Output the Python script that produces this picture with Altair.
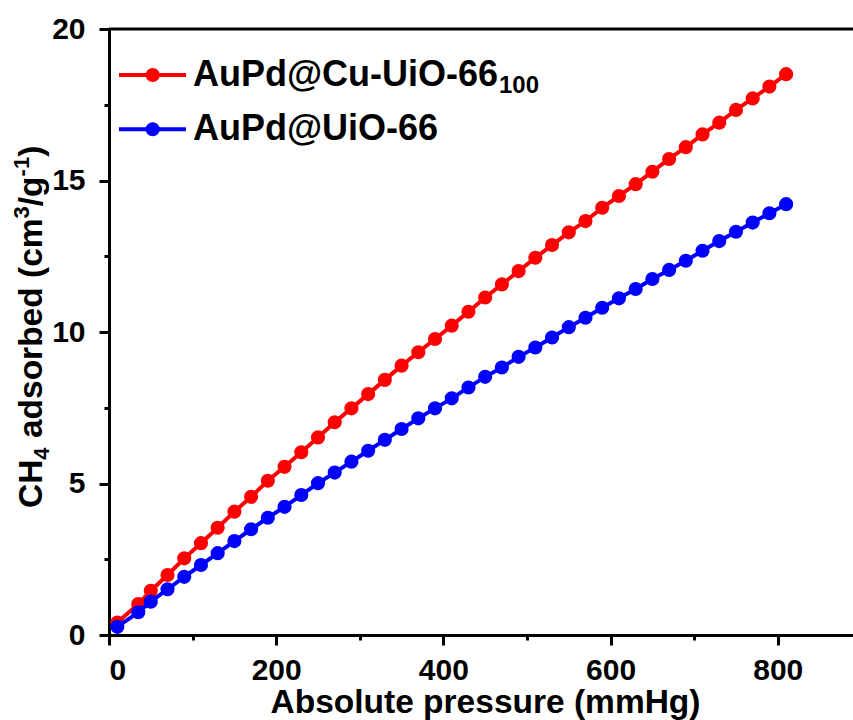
import altair as alt
import pandas as pd

# CH4 adsorption isotherms at room temperature
pressure = [10, 35] + list(range(50, 811, 20))

cu_uio66_100 = [
    0.41, 1.02, 1.46, 1.98, 2.53, 3.03, 3.54, 4.07, 4.56, 5.09,
    5.55, 6.03, 6.52, 7.02, 7.48, 7.95, 8.42, 8.89, 9.33, 9.77,
    10.21, 10.67, 11.14, 11.57, 12.01, 12.45, 12.87, 13.29, 13.66, 14.10,
    14.49, 14.88, 15.29, 15.71, 16.10, 16.52, 16.91, 17.33, 17.71, 18.10,
    18.51,
]
uio66 = [
    0.27, 0.75, 1.10, 1.51, 1.92, 2.31, 2.70, 3.10, 3.49, 3.87,
    4.23, 4.62, 5.01, 5.36, 5.72, 6.08, 6.44, 6.80, 7.15, 7.48,
    7.81, 8.17, 8.52, 8.83, 9.18, 9.49, 9.82, 10.16, 10.47, 10.80,
    11.11, 11.42, 11.75, 12.05, 12.35, 12.68, 13.00, 13.31, 13.61, 13.92,
    14.22,
]

series_names = ["AuPd@Cu-UiO-66", "AuPd@UiO-66"]
series_subs = ["100", ""]
series_colors = ["#ff0000", "#0000ff"]
series_values = [cu_uio66_100, uio66]

x_ticks = list(range(0, 801, 100))
y_ticks = [i * 2.5 for i in range(9)]

FONT = "Liberation Sans"
W, H = 744, 606

x_axis = alt.Axis(
    values=x_ticks,
    labelExpr="datum.value % 200 == 0 ? datum.label : ''",
    tickSize={"condition": {"test": "datum.value % 200 == 0", "value": 10}, "value": 5},
    tickWidth=3, tickColor="black",
    domainWidth=3, domainColor="black",
    labelFont=FONT, labelFontSize=30, labelFontWeight="bold", labelColor="black",
    labelPadding=10, labelOverlap=False, grid=False,
    title="Absolute pressure (mmHg)",
    titleFont=FONT, titleFontSize=33.5, titleFontWeight="bold", titleColor="black",
    titleBaseline="alphabetic", titleAlign="center", titleX=376, titleY=77,
)
y_axis = alt.Axis(
    values=y_ticks,
    labelExpr="datum.value % 5 == 0 ? datum.label : ''",
    tickSize={"condition": {"test": "datum.value % 5 == 0", "value": 10}, "value": 5},
    tickWidth=3, tickColor="black",
    domainWidth=3, domainColor="black",
    labelFont=FONT, labelFontSize=30, labelFontWeight="bold", labelColor="black",
    labelPadding=14, labelOverlap=False, grid=False,
    title=None,
)

x_enc = alt.X("p:Q", scale=alt.Scale(domain=[0, 890], nice=False, zero=False), axis=x_axis)
y_enc = alt.Y("v:Q", scale=alt.Scale(domain=[0, 20], nice=False, zero=False), axis=y_axis)

one = pd.DataFrame({"k": [0]})
layers = []

# top frame line
layers.append(
    alt.Chart(one).mark_rule(color="black", strokeWidth=3).encode(
        y=alt.datum(20), x=alt.value(0), x2=alt.value(W)
    )
)

MARKER = 200
for name, col, vals in zip(series_names, series_colors, series_values):
    df = pd.DataFrame({"p": pressure, "v": vals, "s": name})
    base = alt.Chart(df).encode(x=x_enc, y=y_enc)
    layers.append(base.mark_line(color=col, strokeWidth=4))
    layers.append(base.mark_circle(color=col, opacity=1, size=MARKER))

# legend
LEG_FS = 36
for i, (name, sub, col) in enumerate(zip(series_names, series_subs, series_colors)):
    ly = 46 + i * 54.3
    layers.append(alt.Chart(one).mark_rule(color=col, strokeWidth=4).encode(
        x=alt.value(10), x2=alt.value(77), y=alt.value(ly)))
    layers.append(alt.Chart(one).mark_circle(color=col, opacity=1, size=MARKER).encode(
        x=alt.value(43.7), y=alt.value(ly)))
    layers.append(alt.Chart(one).mark_text(
        text=name, font=FONT, fontSize=LEG_FS, fontWeight="bold", color="black",
        align="left", baseline="alphabetic").encode(
        x=alt.value(84), y=alt.value(ly + 10.7)))
    if sub:
        layers.append(alt.Chart(one).mark_text(
            text=sub, font=FONT, fontSize=24, fontWeight="bold", color="black",
            align="left", baseline="alphabetic").encode(
            x=alt.value(390), y=alt.value(ly + 18.3)))

# rotated y title with sub/superscripts (text, size, baseline shift, advance in em)
F, S = 33.5, 22
base_x = -67
pieces = [
    ("CH", F, 0, 1.444),
    ("4", S, 7, 0.556),
    ("", F, 0, 0.278),
    ("adsorbed (cm", F, 0, 6.557),
    ("3", S, -13, 0.556),
    ("/g", F, 0, 0.889),
    ("-1", S, -13, 0.889),
    (")", F, 0, 0.333),
]
pos = 479.0
for txt, fs, dx, adv in pieces:
    if txt:
        layers.append(alt.Chart(one).mark_text(
            text=txt, font=FONT, fontSize=fs, fontWeight="bold", color="black",
            align="left", baseline="alphabetic", angle=270).encode(
            x=alt.value(base_x + dx), y=alt.value(pos)))
    pos -= adv * fs

chart = alt.layer(*layers).properties(
    width=W, height=H,
    autosize=alt.AutoSizeParams(type="none"),
    padding={"left": 109, "top": 29, "right": 0, "bottom": 85},
    background="white",
).configure_view(stroke=None)

chart.save("out.html", embed_options={"renderer": "svg", "actions": False})
